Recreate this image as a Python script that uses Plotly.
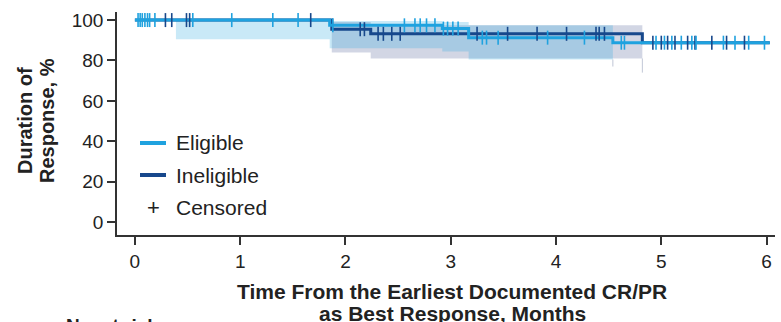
import numpy as np
import plotly.graph_objects as go

# ---------------- data ----------------
ELIG_T = [0, 1.85, 2.92, 3.17, 4.54, 6.03]
ELIG_S = [100, 97.4, 95.8, 91.3, 88.8, 88.8]
INEL_T = [0, 1.87, 2.24, 4.82, 6.03]
INEL_S = [100, 95.5, 93.2, 88.8, 88.8]

ELIG_CI_T = [0.39, 1.85, 2.92, 3.17, 4.54]
ELIG_CI_LO = [90.5, 86.0, 84.5, 80.5, 80.5]
ELIG_CI_HI = [100, 99.5, 99.0, 97.5, 97.5]
ELIG_CI_TAIL = 77.0
INEL_CI_T = [1.87, 2.24, 4.82]
INEL_CI_LO = [84.0, 81.0, 81.0]
INEL_CI_HI = [99.0, 97.5, 97.5]
INEL_CI_TAIL = 74.0

ELIG_CENS = [0.03, 0.05, 0.07, 0.095, 0.12, 0.14, 0.19, 0.55, 0.92, 1.31, 1.55, 1.88,
             2.56, 2.66, 2.71, 2.77, 2.85, 2.93, 2.97, 3.02, 3.07, 3.30, 3.34, 3.45, 3.92,
             4.27, 4.62, 4.65, 4.95, 5.03, 5.10, 5.19, 5.29, 5.33, 5.59, 5.70, 5.83, 5.98]
INEL_CENS = [0.29, 0.35, 0.49, 0.52, 1.67, 2.14, 2.18, 2.31, 2.36, 2.44, 2.52, 3.25,
             3.54, 3.82, 4.10, 4.38, 4.41, 4.46, 4.92, 5.00, 5.06, 5.13, 5.25, 5.32,
             5.48, 5.62, 5.79]

X_TICKS = [0, 1, 2, 3, 4, 5, 6]
Y_TICKS = [0, 20, 40, 60, 80, 100]
LEGEND_LABELS = ["Eligible", "Ineligible", "Censored"]
X_TITLE = ["Time From the Earliest Documented CR/PR", "as Best Response, Months"]
Y_TITLE = ["Duration of", "Response, %"]

# ---------------- style ----------------
C_ELIG = "#1fa2df"
C_INEL = "#17488c"
F_ELIG = "rgba(41,168,224,0.25)"
F_INEL = "rgba(30,50,120,0.20)"
TXT = "#222222"
FONT = "Liberation Sans, Arial, sans-serif"
W, H = 781, 322
L, R, T, B = 117, 6, 12, 87


def step_val(ts, ss, t):
    i = np.searchsorted(np.array(ts), t, side="right") - 1
    return ss[max(i, 0)]


fig = go.Figure()


def add_band(ts, lo, hi, fill, tail):
    fig.add_trace(go.Scatter(x=ts, y=lo, mode="lines", line=dict(width=0, shape="hv"),
                             hoverinfo="skip", showlegend=False))
    fig.add_trace(go.Scatter(x=ts, y=hi, mode="lines", line=dict(width=0, shape="hv"),
                             fill="tonexty", fillcolor=fill, hoverinfo="skip", showlegend=False))
    fig.add_trace(go.Scatter(x=[ts[-1], ts[-1]], y=[lo[-1], tail], mode="lines",
                             line=dict(width=1, color="rgba(150,160,185,0.6)"),
                             hoverinfo="skip", showlegend=False))


add_band(INEL_CI_T, INEL_CI_LO, INEL_CI_HI, F_INEL, INEL_CI_TAIL)
add_band(ELIG_CI_T, ELIG_CI_LO, ELIG_CI_HI, F_ELIG, ELIG_CI_TAIL)

fig.add_trace(go.Scatter(x=INEL_T, y=INEL_S, mode="lines",
                         line=dict(color=C_INEL, width=3, shape="hv"), showlegend=False))
fig.add_trace(go.Scatter(x=ELIG_T, y=ELIG_S, mode="lines",
                         line=dict(color=C_ELIG, width=3, shape="hv"), showlegend=False))

fig.add_trace(go.Scatter(x=INEL_CENS, y=[step_val(INEL_T, INEL_S, t) for t in INEL_CENS],
                         mode="markers", showlegend=False,
                         marker=dict(symbol="line-ns", size=10,
                                     line=dict(color=C_INEL, width=1.6))))
fig.add_trace(go.Scatter(x=ELIG_CENS, y=[step_val(ELIG_T, ELIG_S, t) for t in ELIG_CENS],
                         mode="markers", showlegend=False,
                         marker=dict(symbol="line-ns", size=10,
                                     line=dict(color=C_ELIG, width=1.6))))

# ---------------- layout ----------------
pw, ph = W - L - R, H - T - B


def px(x):
    return (x - L) / pw


def py(y):
    return (H - B - y) / ph


axis_common = dict(ticks="outside", ticklen=8, tickwidth=1.5, tickcolor="#333",
                   showline=True, linecolor="#333", linewidth=1.5, showgrid=False,
                   zeroline=False, tickfont=dict(family=FONT, size=19, color=TXT))
fig.update_layout(
    width=W, height=H,
    margin=dict(l=L, r=R, t=T, b=B),
    paper_bgcolor="white", plot_bgcolor="white",
    showlegend=False,
    xaxis=dict(range=[-0.17, 6.08], tickvals=X_TICKS, **axis_common),
    yaxis=dict(range=[-6.4, 104], tickvals=Y_TICKS, **axis_common),
)

ann = []
for txt, yy in zip(X_TITLE, [291, 313]):
    ann.append(dict(text="<b>%s</b>" % txt, xref="paper", yref="paper", x=px(452), y=py(yy),
                    xanchor="center", yanchor="middle", showarrow=False,
                    font=dict(family=FONT, size=21, color=TXT)))
for txt, xx in zip(Y_TITLE, [25, 47]):
    ann.append(dict(text="<b>%s</b>" % txt, textangle=-90,
                    xref="paper", yref="paper", x=px(xx), y=py(121), xanchor="center",
                    yanchor="middle", showarrow=False,
                    font=dict(family=FONT, size=20, color=TXT)))
ann.append(dict(text="<b>No. at risk</b>", xref="paper", yref="paper", x=px(64), y=py(313),
                xanchor="left", yanchor="top", showarrow=False,
                font=dict(family=FONT, size=19, color=TXT)))

# legend (manual)
leg_y = [143, 175, 207]
shapes = []
for yy, col in zip(leg_y[:2], [C_ELIG, C_INEL]):
    shapes.append(dict(type="line", xref="paper", yref="paper", x0=px(140), x1=px(166),
                       y0=py(yy), y1=py(yy), line=dict(color=col, width=4)))
for yy, lab in zip(leg_y, LEGEND_LABELS):
    ann.append(dict(text=lab, xref="paper", yref="paper", x=px(174), y=py(yy),
                    xanchor="left", yanchor="middle", showarrow=False,
                    font=dict(family=FONT, size=21, color=TXT)))
ann.append(dict(text="+", xref="paper", yref="paper", x=px(153), y=py(leg_y[2]),
                xanchor="center", yanchor="middle", showarrow=False,
                font=dict(family=FONT, size=22, color=TXT)))

fig.update_layout(annotations=ann, shapes=shapes)
fig.write_html("out.html")
